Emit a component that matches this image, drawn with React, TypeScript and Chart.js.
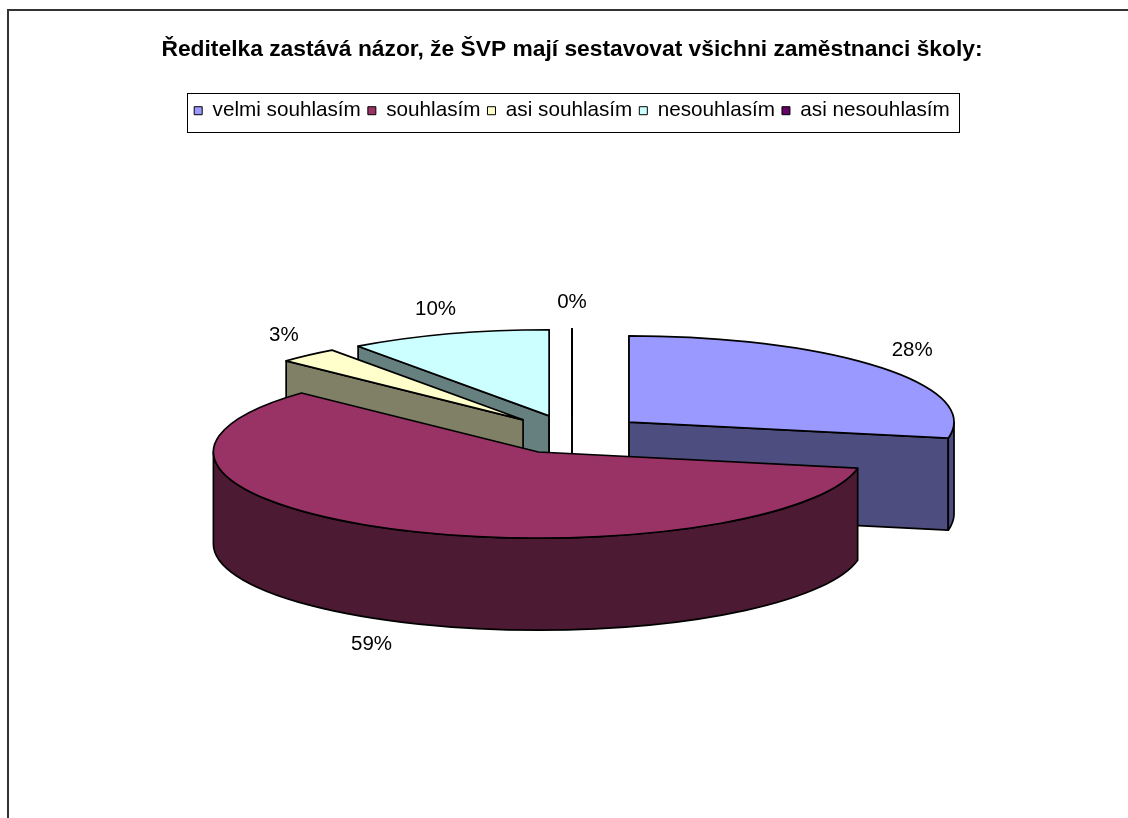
import { useEffect, useRef } from "react";
import { Chart, registerables } from "chart.js";

Chart.register(...registerables);

const TITLE = "Ředitelka zastává názor, že ŠVP mají sestavovat všichni zaměstnanci školy:";
const categories = ["velmi souhlasím", "souhlasím", "asi souhlasím", "nesouhlasím", "asi nesouhlasím"];
const percentages = [28, 59, 3, 10, 0];
const percentLabels = ["28%", "59%", "3%", "10%", "0%"];
const topColors = ["#9999FF", "#993366", "#FFFFCC", "#CCFFFF", "#660066"];
const sideColors = ["#4D4D80", "#4D1A33", "#808066", "#668080", "#330033"];

const FONT = "'Liberation Sans', Arial, Helvetica, sans-serif";
const TILT = 0.265;
const DEPTH = 92;
const EXPLODE = 74;
const LABEL_GAP_X = 22;
const LABEL_GAP_Y = 16;

const pie3d = {
  id: "pie3d",
  beforeDatasetsDraw(chart: any) {
    const meta = chart.getDatasetMeta(0);
    const ctx: CanvasRenderingContext2D = chart.ctx;
    const slices = meta.data.map((arc: any, i: number) => {
      const p = arc.getProps(["x", "y", "startAngle", "endAngle", "outerRadius"], true);
      const mid = (p.startAngle + p.endAngle) / 2;
      return {
        i,
        cx: p.x + Math.cos(mid) * EXPLODE,
        cy: p.y + Math.sin(mid) * EXPLODE * TILT,
        a0: p.startAngle,
        a1: p.endAngle,
        r: p.outerRadius,
        mid,
      };
    });
    const order = [...slices].sort((p: any, q: any) => Math.sin(p.mid) - Math.sin(q.mid));
    ctx.save();
    ctx.lineWidth = 1.7;
    ctx.strokeStyle = "#000";
    ctx.lineJoin = "round";
    for (const s of order) {
      const rx = s.r;
      const ry = s.r * TILT;
      const pt = (a: number, dz = 0) => [s.cx + rx * Math.cos(a), s.cy + ry * Math.sin(a) + dz];
      ctx.fillStyle = sideColors[s.i];
      const wall = (a: number) => {
        const p = pt(a);
        ctx.beginPath();
        ctx.moveTo(s.cx, s.cy);
        ctx.lineTo(p[0], p[1]);
        ctx.lineTo(p[0], p[1] + DEPTH);
        ctx.lineTo(s.cx, s.cy + DEPTH);
        ctx.closePath();
        ctx.fill();
        ctx.stroke();
      };
      if (Math.cos(s.a0) < 1e-6) wall(s.a0);
      if (Math.cos(s.a1) > -1e-6) wall(s.a1);
      for (const [lo, hi] of [[0, Math.PI], [2 * Math.PI, 3 * Math.PI]]) {
        const b0 = Math.max(s.a0, lo);
        const b1 = Math.min(s.a1, hi);
        if (b1 > b0) {
          ctx.beginPath();
          ctx.ellipse(s.cx, s.cy, rx, ry, 0, b0, b1);
          ctx.ellipse(s.cx, s.cy + DEPTH, rx, ry, 0, b1, b0, true);
          ctx.closePath();
          ctx.fill();
          ctx.stroke();
        }
      }
      ctx.fillStyle = topColors[s.i];
      ctx.beginPath();
      ctx.moveTo(s.cx, s.cy);
      ctx.ellipse(s.cx, s.cy, rx, ry, 0, s.a0, s.a1);
      ctx.closePath();
      ctx.fill();
      ctx.stroke();
    }
    ctx.font = `20.5px ${FONT}`;
    ctx.fillStyle = "#000";
    ctx.textAlign = "center";
    ctx.textBaseline = "middle";
    for (const s of slices) {
      const rx = s.r;
      const ry = s.r * TILT;
      const c = Math.cos(s.mid);
      const sn = Math.sin(s.mid);
      const bx = s.cx + rx * c;
      const by = s.cy + ry * sn + (sn > 0.2 ? DEPTH : 0);
      const txt = percentLabels[s.i];
      const hw = ctx.measureText(txt).width / 2;
      const hh = 10;
      ctx.fillText(txt, bx + c * (LABEL_GAP_X + hw), by + sn * (LABEL_GAP_Y + hh));
    }
    ctx.restore();
    return false;
  },
};

const legendFrame = {
  id: "legendFrame",
  afterDraw(chart: any) {
    const lg = chart.legend;
    const hb = lg.legendHitBoxes;
    if (!hb || !hb.length) return;
    const ctx: CanvasRenderingContext2D = chart.ctx;
    const last = hb[hb.length - 1];
    const left = Math.round(hb[0].left - 7) + 0.5;
    const right = Math.round(last.left + last.width + 9) + 0.5;
    const top = Math.round(lg.top) + 0.5;
    const bottom = Math.round(lg.top + 39) + 0.5;
    ctx.save();
    ctx.strokeStyle = "#000";
    ctx.lineWidth = 1;
    ctx.strokeRect(left, top, right - left, bottom - top);
    ctx.restore();
  },
};

export default function App() {
  const ref = useRef<HTMLCanvasElement>(null);
  useEffect(() => {
    const chart = new Chart(ref.current!, {
      type: "pie",
      data: {
        labels: categories,
        datasets: [
          {
            data: percentages,
            backgroundColor: topColors,
            borderColor: "#000",
            borderWidth: 1,
            radius: 325,
          } as any,
        ],
      },
      options: {
        responsive: false,
        animation: false,
        events: [],
        layout: { padding: { top: 0, bottom: 103, left: 0, right: 0 } },
        plugins: {
          title: {
            display: true,
            text: TITLE,
            color: "#000",
            font: { family: FONT, size: 22.8, weight: "bold" },
            padding: { top: 25, bottom: 30 },
          },
          legend: {
            display: true,
            position: "top",
            labels: {
              color: "#000",
              font: { family: FONT, size: 20.7 },
              boxWidth: 8,
              boxHeight: 8,
              padding: 7,
            },
          },
          tooltip: { enabled: false },
        },
      } as any,
      plugins: [pie3d, legendFrame],
    });
    return () => chart.destroy();
  }, []);

  return (
    <div
      style={{
        position: "fixed",
        left: 0,
        top: 0,
        width: 1128,
        height: 818,
        overflow: "hidden",
        background: "#fff",
      }}
    >
      <div
        style={{
          position: "absolute",
          left: 7,
          top: 9,
          width: 1130,
          height: 840,
          borderLeft: "2px solid #333",
          borderTop: "2px solid #333",
        }}
      >
        <canvas ref={ref} width={1126} height={830} style={{ display: "block", width: 1126, height: 830 }} />
      </div>
    </div>
  );
}
